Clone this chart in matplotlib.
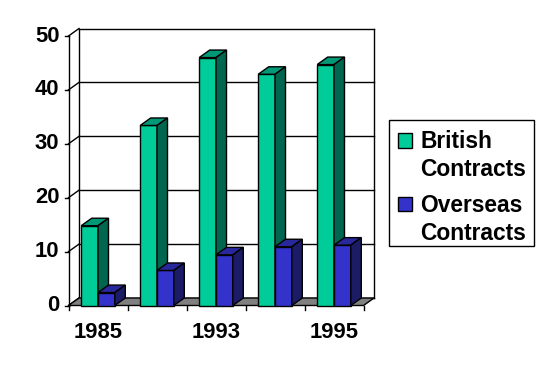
import matplotlib
matplotlib.use("Agg")
import matplotlib.pyplot as plt
from matplotlib.patches import Polygon, Rectangle

# ---- data ----
categories = ["1985", "1990", "1993", "1994", "1995"]
tick_labels = ["1985", "", "1993", "", "1995"]
series_names = ["British\nContracts", "Overseas\nContracts"]
british = [14.8, 33.4, 46.0, 42.9, 44.7]
overseas = [2.4, 6.5, 9.4, 10.9, 11.2]
y_ticks = [0, 10, 20, 30, 40, 50]

# ---- styles ----
front_cols = ["#00CC99", "#3333CC"]
top_cols = ["#009977", "#28289C"]
side_cols = ["#006650", "#1C1C66"]
floor_col = "#808080"
FONT = "Liberation Sans"

W, H = 553, 369
fig = plt.figure(figsize=(W / 100, H / 100), dpi=100)
x0p, x1p = 68.5, 363.5
y0p, y1p = 305.5, 36.0
ax = fig.add_axes([x0p / W, 1 - y0p / H, (x1p - x0p) / W, (y0p - y1p) / H])
n = len(categories)
ymax = y_ticks[-1]
ax.set_xlim(0, n)
ax.set_ylim(0, ymax)
ax.axis("off")

px_x = (x1p - x0p) / n
px_y = (y0p - y1p) / ymax
DX = 10.5 / px_x
DY = 7.5 / px_y
lw = 1.0

# back wall gridlines and frame
for v in y_ticks:
    ax.plot([DX, n + DX], [v + DY, v + DY], color="black", lw=lw, clip_on=False, zorder=1)
    ax.plot([0, DX], [v, v + DY], color="black", lw=lw, clip_on=False, zorder=1)
    ax.plot([0, -4 / px_x], [v, v], color="black", lw=lw, clip_on=False, zorder=1)
ax.plot([DX, DX], [DY, ymax + DY], color="black", lw=lw, clip_on=False, zorder=1)
ax.plot([n + DX, n + DX], [DY, ymax + DY], color="black", lw=lw, clip_on=False, zorder=1)
ax.plot([0, 0], [0, ymax], color="black", lw=lw, clip_on=False, zorder=1)

# floor
ax.add_patch(Polygon([(0, 0), (n, 0), (n + DX, DY), (DX, DY)], closed=True,
                     facecolor=floor_col, edgecolor="black", lw=lw, clip_on=False, zorder=2))
for i in range(n + 1):
    ax.plot([i, i], [0, -4 / px_y], color="black", lw=lw, clip_on=False, zorder=2)

# bars
bw = 16.8 / px_x
offsets = [12.7 / px_x, 12.7 / px_x + bw]
z = 3
for i in range(n):
    for s, vals in enumerate([british, overseas]):
        h = vals[i]
        xa = i + offsets[s]
        xb = xa + bw
        ax.bar(xa, h, width=bw, align="edge", color=front_cols[s], edgecolor="black",
               lw=lw, clip_on=False, zorder=z)
        ax.add_patch(Polygon([(xa, h), (xb, h), (xb + DX, h + DY), (xa + DX, h + DY)],
                             closed=True, facecolor=top_cols[s], edgecolor="black",
                             lw=lw, clip_on=False, zorder=z))
        ax.add_patch(Polygon([(xb, 0), (xb + DX, DY), (xb + DX, h + DY), (xb, h)],
                             closed=True, facecolor=side_cols[s], edgecolor="black",
                             lw=lw, clip_on=False, zorder=z))
        z += 1

# tick labels
for v in y_ticks:
    ax.text(-9 / px_x, v, str(v), ha="right", va="center", fontsize=15.8,
            fontweight="bold", family=FONT, clip_on=False)
for i, lab in enumerate(tick_labels):
    if lab:
        ax.text(i + 0.5, -27 / px_y, lab, ha="center", va="center", fontsize=15.8,
                fontweight="bold", family=FONT, clip_on=False)

# legend (figure pixel coords)
def fx(x):
    return x / W

def fy(y):
    return 1 - y / H

fig.patches.append(Rectangle((fx(388.5), fy(246)), (534 - 388.5) / W, (246 - 120) / H,
                             transform=fig.transFigure, facecolor="white",
                             edgecolor="black", lw=lw))
entry_tops = [133.3, 196.7]
for s, name in enumerate(series_names):
    top = entry_tops[s]
    fig.patches.append(Rectangle((fx(398), fy(top + 14.7)), 14.3 / W, 14.7 / H,
                                 transform=fig.transFigure, facecolor=front_cols[s],
                                 edgecolor="black", lw=lw))
    for k, line in enumerate(name.split("\n")):
        fig.text(fx(420), fy(top + 15 + 28 * k), line, ha="left", va="baseline",
                 fontsize=16.4, fontweight="bold", family=FONT)

fig.savefig("out.png", dpi=100)
